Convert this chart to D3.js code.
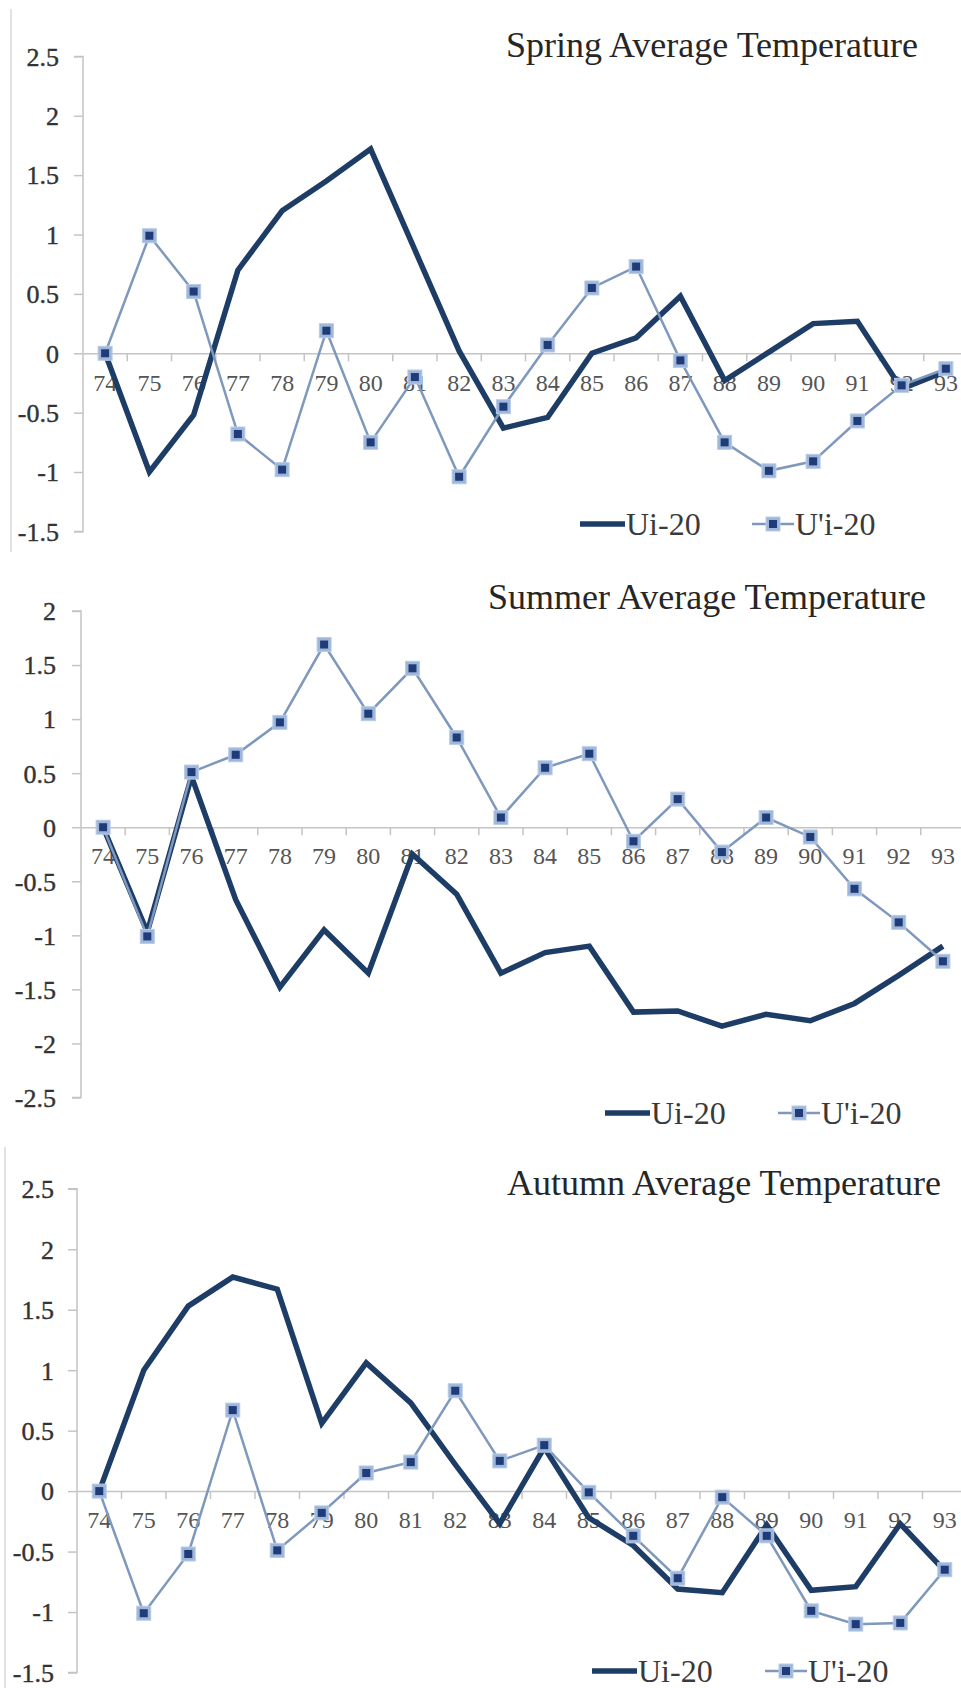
<!DOCTYPE html>
<html>
<head>
<meta charset="utf-8">
<script src="https://cdn.jsdelivr.net/npm/d3@7"></script>
<style>
  html, body { margin: 0; padding: 0; background: #fff; }
  svg { display: block; }
  text { font-family: "Liberation Serif", "Times New Roman", serif; }
</style>
</head>
<body>
<svg id="chart" width="961" height="1688"></svg>
<script>
// Years on the category axis (19xx)
const years = ["74","75","76","77","78","79","80","81","82","83",
               "84","85","86","87","88","89","90","91","92","93"];

const seriesNames = ["Ui-20", "U'i-20"];

// Spring
const springUi  = [0, -1.0, -0.52, 0.70, 1.20, 1.45, 1.72, 0.87, 0.02, -0.63,
                   -0.54, 0.0, 0.13, 0.48, -0.23, 0.01, 0.25, 0.27, -0.30, -0.15];
const springUpi = [0, 0.99, 0.52, -0.68, -0.98, 0.19, -0.75, -0.20, -1.04, -0.45,
                   0.07, 0.55, 0.73, -0.06, -0.75, -0.99, -0.91, -0.57, -0.27, -0.13];
const springTicks = [-1.5, -1, -0.5, 0, 0.5, 1, 1.5, 2, 2.5];

// Summer
const summerUi  = [0, -0.97, 0.47, -0.67, -1.48, -0.95, -1.35, -0.25, -0.62, -1.35,
                   -1.16, -1.10, -1.71, -1.70, -1.84, -1.73, -1.79, -1.63, -1.37, -1.10];
const summerUpi = [0, -1.01, 0.51, 0.67, 0.97, 1.69, 1.05, 1.47, 0.83, 0.09,
                   0.55, 0.68, -0.13, 0.26, -0.23, 0.09, -0.09, -0.57, -0.88, -1.24];
const summerTicks = [-2.5, -2, -1.5, -1, -0.5, 0, 0.5, 1, 1.5, 2];

// Autumn
const autumnUi  = [0, 1.0, 1.53, 1.77, 1.67, 0.56, 1.06, 0.73, 0.22, -0.27,
                   0.36, -0.22, -0.45, -0.81, -0.84, -0.28, -0.82, -0.79, -0.27, -0.66];
const autumnUpi = [0, -1.01, -0.52, 0.67, -0.49, -0.18, 0.15, 0.24, 0.83, 0.25,
                   0.38, -0.01, -0.37, -0.72, -0.05, -0.37, -0.99, -1.10, -1.09, -0.65];
const autumnTicks = [-1.5, -1, -0.5, 0, 0.5, 1, 1.5, 2, 2.5];

// layout of the three stacked panels (pixel geometry only)
const panels = [
  { title: "Spring Average Temperature", ui: springUi, upi: springUpi, ticks: springTicks,
    x0: 83, x1: 968, yTop: 56.4, yBot: 531.4, labelX: 59,
    titleX: 506, titleY: 57, legY: 524, leg1: 580, leg2: 752, border: [11, 9, 552] },
  { title: "Summer Average Temperature", ui: summerUi, upi: summerUpi, ticks: summerTicks,
    x0: 81, x1: 965, yTop: 611, yBot: 1097.5, labelX: 56,
    titleX: 488, titleY: 609, legY: 1113, leg1: 605, leg2: 778, border: null },
  { title: "Autumn Average Temperature", ui: autumnUi, upi: autumnUpi, ticks: autumnTicks,
    x0: 77, x1: 967, yTop: 1188.8, yBot: 1672.5, labelX: 54,
    titleX: 507, titleY: 1195, legY: 1671, leg1: 592, leg2: 765, border: [5, 1147, 1688] }
];

const DARK = "#1d3d66";
const LIGHT = "#7f98bd";
const MARK_OUT = "#9db6da";
const MARK_IN = "#1f3b78";
const AXIS = "#c4c4c4";

const svg = d3.select("#chart");

function marker(g, x, y) {
  g.append("rect").attr("x", x - 7).attr("y", y - 7).attr("width", 14).attr("height", 14)
    .attr("fill", MARK_OUT).attr("stroke", "#b9cbe6").attr("stroke-width", 1);
  g.append("rect").attr("x", x - 4).attr("y", y - 4).attr("width", 8).attr("height", 8)
    .attr("fill", MARK_IN);
}

panels.forEach(p => {
  const g = svg.append("g");

  if (p.border) {
    g.append("line").attr("x1", p.border[0]).attr("x2", p.border[0])
      .attr("y1", p.border[1]).attr("y2", p.border[2])
      .attr("stroke", "#cfcfcf").attr("stroke-width", 1.2);
  }

  const x = d3.scaleBand().domain(years).range([p.x0, p.x1]).paddingInner(0).paddingOuter(0);
  const y = d3.scaleLinear().domain([p.ticks[0], p.ticks[p.ticks.length - 1]]).range([p.yBot, p.yTop]);
  const cx = d => x(d) + x.bandwidth() / 2;

  // y axis
  const yAxis = g.append("g").attr("transform", `translate(${p.x0},0)`)
    .call(d3.axisLeft(y).tickValues(p.ticks).tickSize(9).tickPadding(p.x0 - 9 - p.labelX).tickFormat(d => String(d)));
  yAxis.select(".domain").attr("stroke", AXIS).attr("stroke-width", 1.5).attr("d", `M-9,${p.yTop}H0V${p.yBot}H-9`);
  yAxis.selectAll(".tick line").attr("stroke", AXIS).attr("stroke-width", 1.5);
  yAxis.selectAll(".tick text").attr("font-size", 26).attr("fill", "#333")
    .attr("stroke", "#333").attr("stroke-width", 0.4).attr("dy", "0.34em");

  // x axis on the zero line, ticks between categories
  const y0 = y(0);
  const xAxis = g.append("g").attr("transform", `translate(0,${y0})`)
    .call(d3.axisBottom(x).tickSize(0).tickPadding(20));
  xAxis.select(".domain").attr("stroke", AXIS).attr("stroke-width", 1.5);
  xAxis.selectAll(".tick text").attr("font-size", 24).attr("fill", "#555").attr("dy", "0.72em");
  g.append("g").selectAll("line").data(years.slice(1)).join("line")
    .attr("x1", d => x(d)).attr("x2", d => x(d))
    .attr("y1", y0).attr("y2", y0 + 8)
    .attr("stroke", AXIS).attr("stroke-width", 1.5);

  const line = d3.line().x((d, i) => cx(years[i])).y(d => y(d));

  // Ui-20 (thick dark line)
  g.append("path").datum(p.ui).attr("d", line)
    .attr("fill", "none").attr("stroke", DARK).attr("stroke-width", 5.5)
    .attr("stroke-linejoin", "miter");

  // U'i-20 (thin line with square markers)
  g.append("path").datum(p.upi).attr("d", line)
    .attr("fill", "none").attr("stroke", LIGHT).attr("stroke-width", 2.5);
  const mg = g.append("g");
  p.upi.forEach((v, i) => marker(mg, cx(years[i]), y(v)));

  // title
  g.append("text").attr("x", p.titleX).attr("y", p.titleY)
    .attr("font-size", 36).attr("fill", "#262626").text(p.title);

  // legend
  const lg = g.append("g");
  lg.append("line").attr("x1", p.leg1).attr("x2", p.leg1 + 45)
    .attr("y1", p.legY).attr("y2", p.legY).attr("stroke", DARK).attr("stroke-width", 5.5);
  lg.append("text").attr("x", p.leg1 + 46).attr("y", p.legY + 11)
    .attr("font-size", 32).attr("fill", "#3a3a3a").text(seriesNames[0]);
  lg.append("line").attr("x1", p.leg2).attr("x2", p.leg2 + 42)
    .attr("y1", p.legY).attr("y2", p.legY).attr("stroke", LIGHT).attr("stroke-width", 2.5);
  marker(lg, p.leg2 + 21, p.legY);
  lg.append("text").attr("x", p.leg2 + 43).attr("y", p.legY + 11)
    .attr("font-size", 32).attr("fill", "#3a3a3a").text(seriesNames[1]);
});
</script>
</body>
</html>
